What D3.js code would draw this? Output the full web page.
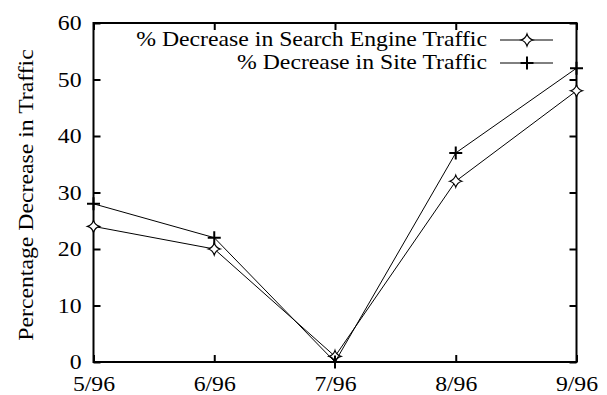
<!DOCTYPE html>
<html>
<head>
<meta charset="utf-8">
<script src="https://cdn.jsdelivr.net/npm/d3@7"></script>
<style>
  html, body { margin: 0; padding: 0; background: #fff; }
</style>
</head>
<body>
<svg id="chart" width="607" height="395"></svg>
<script>
// Months on the x axis
const months = ["5/96", "6/96", "7/96", "8/96", "9/96"];
// Percentage decrease per month
const searchEngineTraffic = [24, 20, 1, 32, 48];
const siteTraffic = [28, 22, 0, 37, 52];
// Y axis ticks
const yTicks = [0, 10, 20, 30, 40, 50, 60];
const seriesNames = ["% Decrease in Search Engine Traffic", "% Decrease in Site Traffic"];

const FONT = "'Liberation Serif', 'Times New Roman', Times, 'DejaVu Serif', serif";
const svg = d3.select("#chart");
const plotLeft = 93.5, plotRight = 576.5, plotTop = 23, plotBottom = 362;
const stretch = 1.13; // glyphs are set slightly wide

const x = d3.scalePoint().domain(months).range([plotLeft, plotRight]);
const y = d3.scaleLinear().domain([0, 60]).range([plotBottom, plotTop]);

// Serif text, widened along its baseline
function typeset(sel) {
  sel.style("font-family", FONT).style("font-size", "21px").style("fill", "#000")
    .each(function () {
      const len = this.getComputedTextLength();
      d3.select(this).attr("textLength", len * stretch).attr("lengthAdjust", "spacingAndGlyphs");
    });
}

function styleAxis(g) {
  g.select(".domain").remove();
  g.attr("font-family", null).attr("font-size", null);
  g.selectAll(".tick line").attr("stroke", "#000").attr("stroke-width", 2);
}

// Left axis with labels, ticks pointing inward
const yAxis = svg.append("g").attr("transform", `translate(${plotLeft},0)`)
  .call(d3.axisLeft(y).tickValues(yTicks).tickSize(-7).tickPadding(12))
  .call(styleAxis);
yAxis.selectAll("text").call(typeset);

// Right mirror ticks
svg.append("g").attr("transform", `translate(${plotRight},0)`)
  .call(d3.axisRight(y).tickValues(yTicks).tickSize(-7).tickFormat(""))
  .call(styleAxis);

// Bottom axis with labels
const xAxis = svg.append("g").attr("transform", `translate(0,${plotBottom})`)
  .call(d3.axisBottom(x).tickSize(-7).tickPadding(14))
  .call(styleAxis);
xAxis.selectAll("text").call(typeset);

// Top mirror ticks
svg.append("g").attr("transform", `translate(0,${plotTop})`)
  .call(d3.axisTop(x).tickSize(-7).tickFormat(""))
  .call(styleAxis);

// Plot frame
svg.append("rect")
  .attr("x", plotLeft).attr("y", plotTop)
  .attr("width", plotRight - plotLeft).attr("height", plotBottom - plotTop)
  .attr("fill", "none").attr("stroke", "#000").attr("stroke-width", 2);

// Y axis title
svg.append("text")
  .attr("transform", `translate(33,195) rotate(-90)`)
  .attr("text-anchor", "middle")
  .text("Percentage Decrease in Traffic")
  .call(typeset);

// Marker shapes
const diamondPath = (cx, cy) => {
  const r = 6, k = 1.4;
  return `M${cx},${cy - r} Q${cx + k},${cy - k} ${cx + r},${cy}` +
         ` Q${cx + k},${cy + k} ${cx},${cy + r}` +
         ` Q${cx - k},${cy + k} ${cx - r},${cy}` +
         ` Q${cx - k},${cy - k} ${cx},${cy - r}Z`;
};
const plusPath = (cx, cy) => {
  const r = 6.5;
  return `M${cx - r},${cy}H${cx + r}M${cx},${cy - r}V${cy + r}`;
};

const line = d3.line().x((d, i) => x(months[i])).y(d => y(d));

const series = [
  { values: searchEngineTraffic, marker: "diamond" },
  { values: siteTraffic, marker: "plus" }
];

function drawMarker(g, kind, cx, cy) {
  if (kind === "diamond") {
    g.append("path").attr("d", diamondPath(cx, cy))
      .attr("fill", "#fff").attr("stroke", "#000").attr("stroke-width", 1.2);
  } else {
    g.append("path").attr("d", plusPath(cx, cy))
      .attr("fill", "none").attr("stroke", "#000").attr("stroke-width", 2);
  }
}

series.forEach(s => {
  svg.append("path").datum(s.values)
    .attr("d", line)
    .attr("fill", "none").attr("stroke", "#000").attr("stroke-width", 1);
  const g = svg.append("g");
  s.values.forEach((v, i) => drawMarker(g, s.marker, x(months[i]), y(v)));
});

// Legend
const legendRows = [40, 63];
series.forEach((s, i) => {
  const ly = legendRows[i];
  svg.append("text")
    .attr("x", 487).attr("y", ly + 6)
    .attr("text-anchor", "end")
    .text(seriesNames[i])
    .call(typeset);
  svg.append("line")
    .attr("x1", 500).attr("x2", 553).attr("y1", ly).attr("y2", ly)
    .attr("stroke", "#000").attr("stroke-width", 1);
  drawMarker(svg.append("g"), s.marker, 527, ly);
});
</script>
</body>
</html>
